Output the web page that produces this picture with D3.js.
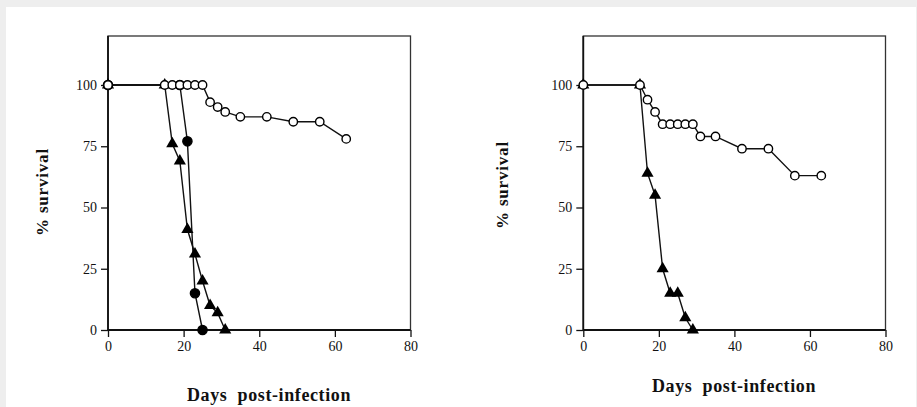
<!DOCTYPE html>
<html>
<head>
<meta charset="utf-8">
<script src="https://cdn.jsdelivr.net/npm/d3@7"></script>
<style>
    body { margin: 0; background: #eeeeee; }
    #chart { position: absolute; left: 0; top: 0; }
    .tick text { font-family: "Liberation Serif", "Times New Roman", serif; font-size: 14px; }
    .label { font-family: "Liberation Serif", "Times New Roman", serif; font-weight: bold; }
</style>
</head>
<body>
<div id="chart"></div>
<script>
// Left panel
var openDaysA = [0, 15, 17, 19, 21, 23, 25, 27, 29, 31, 35, 42, 49, 56, 63]
var openSurvA = [100, 100, 100, 100, 100, 100, 100, 93, 91, 89, 87, 87, 85, 85, 78]
var dotDaysA = [0, 19, 21, 23, 25]
var dotSurvA = [100, 100, 77, 15, 0]
var triDaysA = [0, 15, 17, 19, 21, 23, 25, 27, 29, 31]
var triSurvA = [100, 100, 76, 69, 41, 31, 20, 10, 7, 0]

// Right panel
var openDaysB = [0, 15, 17, 19, 21, 23, 25, 27, 29, 31, 35, 42, 49, 56, 63]
var openSurvB = [100, 100, 94, 89, 84, 84, 84, 84, 84, 79, 79, 74, 74, 63, 63]
var triDaysB = [0, 15, 17, 19, 21, 23, 25, 27, 29]
var triSurvB = [100, 100, 64, 55, 25, 15, 15, 5, 0]

var xTicks = [0, 20, 40, 60, 80]
var yTicks = [0, 25, 50, 75, 100]
var xTitle = "Days\u00a0 post-infection"
var yTitle = "% survival"

var width = 917;
var height = 407;

var svg = d3.select("#chart")
    .append("svg")
    .attr("width", width)
    .attr("height", height);

// white sheet on the grey page
svg.append("rect")
    .attr("x", 6)
    .attr("y", 7)
    .attr("width", 910)
    .attr("height", 400)
    .attr("fill", "#ffffff");

let zip = (days, surv) => days.map((d, i) => ({ day: d, surv: surv[i] }))

function drawPanel(left, right, series, yLabelX, yLabelY, xLabelX, xLabelY) {
    var x = d3.scaleLinear().domain([0, 80]).range([left, right]);
    var y = d3.scaleLinear().domain([0, 120]).range([330, 36]);

    var g = svg.append("g");

    // frame (top and right sides)
    g.append("rect")
        .attr("x", x(0))
        .attr("y", y(120))
        .attr("width", x(80) - x(0))
        .attr("height", y(0) - y(120))
        .attr("fill", "none")
        .attr("stroke", "#333")
        .attr("stroke-width", 1.3);

    // axes
    var xAxis = g.append("g")
        .attr("transform", "translate(0," + y(0) + ")")
        .call(d3.axisBottom(x).tickValues(xTicks).tickSize(7).tickSizeOuter(0).tickPadding(4));
    var yAxis = g.append("g")
        .attr("transform", "translate(" + x(0) + ",0)")
        .call(d3.axisLeft(y).tickValues(yTicks).tickSize(7).tickSizeOuter(0).tickPadding(4));
    [xAxis, yAxis].forEach(function (a) {
        a.select(".domain").attr("stroke", "#111").attr("stroke-width", 1.8);
        a.selectAll(".tick line").attr("stroke", "#111").attr("stroke-width", 1.3);
        a.selectAll(".tick text").attr("fill", "#111");
    });
    yAxis.select(".domain").attr("d", "M0," + y(0) + "V" + y(120));
    xAxis.select(".domain").attr("d", "M" + x(0) + ",0H" + x(80));

    var line = d3.line()
        .x(d => x(d.day))
        .y(d => y(d.surv));

    // lines first, then markers (open circles on top)
    series.forEach(function (s) {
        g.append("path")
            .datum(s.data)
            .attr("d", line)
            .attr("fill", "none")
            .attr("stroke", "#111")
            .attr("stroke-width", 1.4);
    });

    series.forEach(function (s) {
        if (s.type == "tri") {
            g.selectAll(null)
                .data(s.data)
                .enter().append("path")
                .attr("d", d3.symbol().type(d3.symbolTriangle).size(64))
                .attr("transform", d => "translate(" + x(d.day) + "," + y(d.surv) + ")")
                .attr("fill", "#000");
        } else {
            g.selectAll(null)
                .data(s.data)
                .enter().append("circle")
                .attr("cx", d => x(d.day))
                .attr("cy", d => y(d.surv))
                .attr("r", s.type == "dot" ? 4.6 : 4.2)
                .attr("fill", s.type == "dot" ? "#000" : "#fff")
                .attr("stroke", "#000")
                .attr("stroke-width", 1.4);
        }
    });

    // axis titles
    g.append("text")
        .attr("class", "label")
        .attr("transform", "translate(" + yLabelX + "," + yLabelY + ") rotate(-90)")
        .attr("text-anchor", "middle")
        .style("font-size", "17px")
        .style("letter-spacing", "0.8px")
        .attr("fill", "#111")
        .text(yTitle);

    g.append("text")
        .attr("class", "label")
        .attr("x", xLabelX)
        .attr("y", xLabelY)
        .attr("text-anchor", "middle")
        .style("font-size", "18px")
        .style("letter-spacing", "0.6px")
        .attr("fill", "#111")
        .text(xTitle);
}

drawPanel(108, 410.5, [
    { type: "tri", data: zip(triDaysA, triSurvA) },
    { type: "dot", data: zip(dotDaysA, dotSurvA) },
    { type: "open", data: zip(openDaysA, openSurvA) }
], 48, 192, 269, 401);

drawPanel(583.3, 885.5, [
    { type: "tri", data: zip(triDaysB, triSurvB) },
    { type: "open", data: zip(openDaysB, openSurvB) }
], 508, 185, 734, 392);
</script>
</body>
</html>
